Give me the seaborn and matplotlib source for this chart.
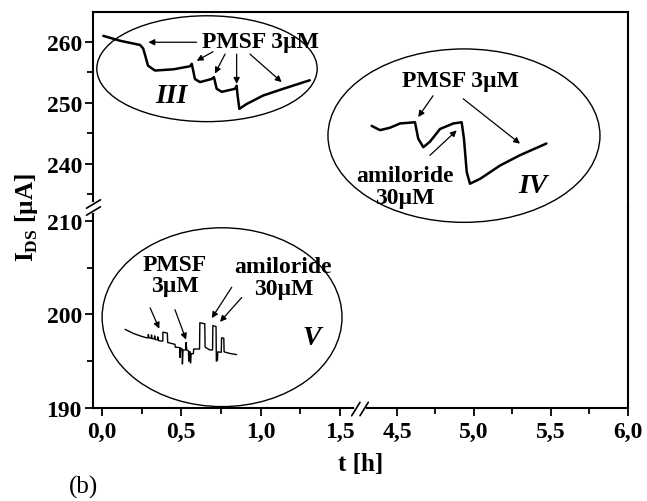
import numpy as np
import pandas as pd
import matplotlib
matplotlib.use('Agg')
import matplotlib.pyplot as plt
import seaborn as sns
from matplotlib.patches import Ellipse
from matplotlib.lines import Line2D
from matplotlib.ticker import FuncFormatter

# curve III : t [h] and I_DS [uA]
t_III = [0.008, 0.113, 0.24, 0.26, 0.29, 0.334, 0.45, 0.555, 0.566, 0.586, 0.618, 0.69,
         0.706, 0.723, 0.755, 0.839, 0.849, 0.855, 0.866, 0.912, 1.017, 1.143, 1.31]
i_III = [261.0, 260.2, 259.5, 258.9, 256.1, 255.3, 255.5, 256.0, 256.4, 253.9, 253.4, 253.9,
         254.2, 252.3, 251.8, 252.3, 252.8, 251.2, 249.0, 249.8, 251.2, 252.3, 253.7]

# curve IV
t_IV = [4.336, 4.39, 4.455, 4.52, 4.617, 4.638, 4.671, 4.714, 4.78, 4.866, 4.92, 4.935,
        4.953, 4.974, 5.04, 5.17, 5.30, 5.47]
i_IV = [246.2, 245.5, 245.9, 246.6, 246.8, 244.1, 242.7, 243.6, 245.7, 246.6, 246.8, 244.1,
        238.6, 236.7, 237.5, 239.7, 241.4, 243.3]

# curve V
t_V = [0.145, 0.20, 0.25, 0.282, 0.29, 0.292, 0.296, 0.31, 0.312, 0.316, 0.33, 0.332, 0.336,
       0.35, 0.352, 0.356, 0.375, 0.383, 0.384, 0.412, 0.414, 0.425, 0.46, 0.462, 0.49, 0.492,
       0.496, 0.505, 0.507, 0.511, 0.528, 0.530, 0.534, 0.545, 0.547, 0.551, 0.556, 0.558,
       0.562, 0.576, 0.578, 0.597, 0.615, 0.617, 0.648, 0.650, 0.66, 0.68, 0.697, 0.699,
       0.719, 0.721, 0.728, 0.730, 0.752, 0.754, 0.768, 0.770, 0.80, 0.849]
i_V = [198.4, 197.95, 197.65, 197.5, 197.5, 197.85, 197.5, 197.45, 197.8, 197.4, 197.4, 197.7,
       197.3, 197.3, 197.6, 197.2, 197.15, 197.15, 198.1, 198.0, 197.0, 196.95, 196.8, 196.5,
       196.45, 195.4, 196.4, 196.3, 194.7, 196.2, 196.2, 197.0, 196.2, 196.1, 195.0, 196.0,
       196.0, 194.8, 195.8, 195.8, 196.3, 196.3, 196.3, 199.1, 199.0, 196.5, 196.4, 196.2,
       196.2, 198.8, 198.7, 195.0, 195.1, 196.0, 195.95, 197.5, 197.45, 196.0, 195.85, 195.7]

x_left_ticks = [0.0, 0.5, 1.0, 1.5]
x_right_ticks = [4.5, 5.0, 5.5, 6.0]
y_top_ticks = [240, 250, 260]
y_bot_ticks = [190, 200, 210]

sns.set_style('ticks')
plt.rcParams['font.family'] = ['Liberation Serif', 'DejaVu Serif']
plt.rcParams['mathtext.fontset'] = 'custom'
plt.rcParams['mathtext.rm'] = 'Liberation Serif'
plt.rcParams['mathtext.bf'] = 'Liberation Serif:bold'
plt.rcParams['axes.edgecolor'] = 'black'
plt.rcParams['xtick.color'] = 'black'
plt.rcParams['ytick.color'] = 'black'
plt.rcParams['text.color'] = 'black'

W, H = 647, 502
fig = plt.figure(figsize=(6.47, 5.02), dpi=100)


def rect(x0, y0, x1, y1):
    return [x0 / W, 1 - y1 / H, (x1 - x0) / W, (y1 - y0) / H]


ax_tl = fig.add_axes(rect(93, 13, 360, 208))
ax_tr = fig.add_axes(rect(360, 13, 628, 208))
ax_bl = fig.add_axes(rect(93, 208, 360, 409))
ax_br = fig.add_axes(rect(360, 208, 628, 409))

df3 = pd.DataFrame({'t': t_III, 'I': i_III})
df4 = pd.DataFrame({'t': t_IV, 'I': i_IV})
df5 = pd.DataFrame({'t': t_V, 'I': i_V})
sns.lineplot(data=df3, x='t', y='I', ax=ax_tl, color='black', lw=1.8, estimator=None, sort=False)
sns.lineplot(data=df4, x='t', y='I', ax=ax_tr, color='black', lw=1.8, estimator=None, sort=False)
sns.lineplot(data=df5, x='t', y='I', ax=ax_bl, color='black', lw=1.0, estimator=None, sort=False)

for ax in [ax_tl, ax_bl]:
    ax.set_xlim(-0.057, 1.627)
for ax in [ax_tr, ax_br]:
    ax.set_xlim(4.26, 6.0)
for ax in [ax_tl, ax_tr]:
    ax.set_ylim(232.87, 264.92)
for ax in [ax_bl, ax_br]:
    ax.set_ylim(190, 211.47)

fmt = FuncFormatter(lambda v, p: f'{v:.1f}'.replace('.', ','))
for ax in [ax_tl, ax_tr, ax_bl, ax_br]:
    ax.patch.set_visible(False)
    ax.set_xlabel('')
    ax.set_ylabel('')
    for s in ax.spines.values():
        s.set_linewidth(1.5)
    ax.tick_params(which='both', direction='out', width=1.3, labelsize=17)
    ax.tick_params(which='major', length=6)
    ax.tick_params(which='minor', length=4)

ax_tl.spines[['bottom', 'right']].set_visible(False)
ax_tr.spines[['bottom', 'left']].set_visible(False)
ax_bl.spines[['top', 'right']].set_visible(False)
ax_br.spines[['top', 'left']].set_visible(False)

ax_tl.set_xticks([])
ax_tr.set_xticks([])
ax_tr.set_yticks([])
ax_br.set_yticks([])
ax_tl.set_yticks(y_top_ticks)
ax_tl.set_yticks([235, 245, 255], minor=True)
ax_bl.set_yticks(y_bot_ticks)
ax_bl.set_yticks([195, 205], minor=True)
ax_bl.set_xticks(x_left_ticks)
ax_bl.set_xticks([0.25, 0.75, 1.25], minor=True)
ax_br.set_xticks(x_right_ticks)
ax_br.set_xticks([4.75, 5.25, 5.75], minor=True)
for ax in [ax_bl, ax_br]:
    ax.xaxis.set_major_formatter(fmt)
    ax.tick_params(axis='x', pad=3)
for ax in [ax_tl, ax_bl]:
    ax.tick_params(axis='y', pad=2)
    for lab in ax.get_yticklabels():
        lab.set_fontweight('bold')
for ax in [ax_bl, ax_br]:
    for lab in ax.get_xticklabels():
        lab.set_fontweight('bold')

txt = dict(ha='center', va='center', fontsize=17, fontweight='bold', clip_on=False)
roman = dict(ha='center', va='center', fontsize=20, fontweight='bold', style='italic', clip_on=False)
arr = dict(arrowstyle='-|>', lw=0.9, color='black', mutation_scale=9, shrinkA=0, shrinkB=0)


def arrow(ax, tail, tip):
    ax.annotate('', xy=tip, xytext=tail, arrowprops=arr, annotation_clip=False)


# group III
ax_tl.add_patch(Ellipse((0.662, 255.6), 1.39, 17.4, fill=False, lw=1.0, ec='black', clip_on=False))
ax_tl.text(0.996, 260.1, 'PMSF 3µM', **txt)
arrow(ax_tl, (0.597, 259.95), (0.292, 259.95))
arrow(ax_tl, (0.70, 258.4), (0.597, 256.9))
arrow(ax_tl, (0.776, 258.0), (0.712, 254.8))
arrow(ax_tl, (0.849, 258.0), (0.849, 253.1))
arrow(ax_tl, (0.933, 258.0), (1.133, 253.4))
ax_tl.text(0.44, 251.2, 'III', **roman)

# group IV
ax_tr.add_patch(Ellipse((4.935, 244.6), 1.766, 28.5, fill=False, lw=1.0, ec='black', clip_on=False))
ax_tr.text(4.909, 253.66, 'PMSF 3µM', **txt)
arrow(ax_tr, (4.734, 251.15), (4.638, 247.66))
arrow(ax_tr, (4.93, 250.66), (5.299, 243.28))
ax_tr.text(4.552, 236.2, 'amiloride\n30µM', linespacing=1.05, **txt)
arrow(ax_tr, (4.714, 241.36), (4.888, 245.46))
ax_tr.text(5.385, 236.44, 'IV', **roman)

# group V
ax_bl.add_patch(Ellipse((0.757, 199.7), 1.513, 19.1, fill=False, lw=1.0, ec='black', clip_on=False))
ax_bl.text(0.46, 204.2, 'PMSF\n3µM', linespacing=1.05, **txt)
arrow(ax_bl, (0.303, 200.7), (0.361, 198.47))
arrow(ax_bl, (0.46, 200.5), (0.53, 197.3))
ax_bl.text(1.143, 203.9, 'amiloride\n30µM', linespacing=1.05, **txt)
arrow(ax_bl, (0.818, 202.9), (0.692, 199.6))
arrow(ax_bl, (0.881, 201.8), (0.744, 199.2))
ax_bl.text(1.322, 197.5, 'V', **roman)


# axis break marks (pixel positions)
def seg(x0, y0, x1, y1, color='black', lw=1.2):
    fig.add_artist(Line2D([x0 / W, x1 / W], [1 - y0 / H, 1 - y1 / H],
                          transform=fig.transFigure, color=color, lw=lw, zorder=10))


seg(93, 205, 93, 212, color='white', lw=3)
seg(86.5, 209.2, 100.5, 200.8)
seg(86.5, 216.2, 100.5, 207.8)
seg(356, 409, 364, 409, color='white', lw=3)
seg(351.7, 416.7, 360, 403.3)
seg(360, 416.7, 368.3, 403.3)

fig.text(361 / W, 1 - 465 / H, 't [h]', ha='center', va='center', fontsize=18, fontweight='bold')
fig.text(27 / W, 1 - 218 / H, r'I$_{\mathbf{DS}}$ [µA]', ha='center', va='center',
         rotation=90, fontsize=18, fontweight='bold')
fig.text(83 / W, 1 - 487 / H, '(b)', ha='center', va='center', fontsize=18)

fig.savefig('out.png', dpi=100)
